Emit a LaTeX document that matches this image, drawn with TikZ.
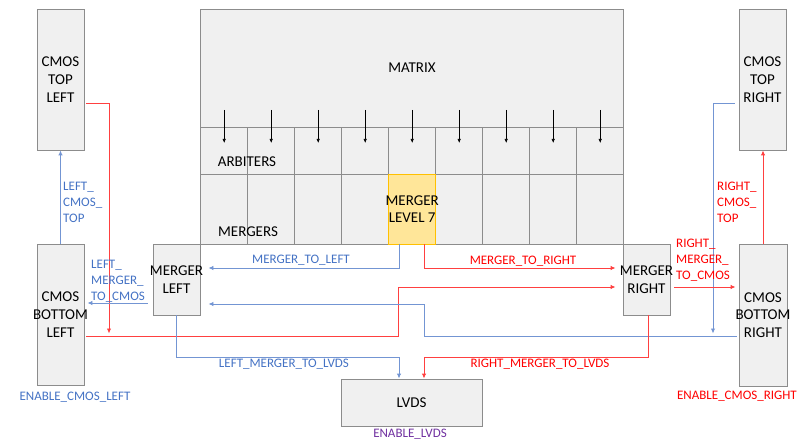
\documentclass[tikz,border=0pt]{standalone}
\usepackage{fontspec}
\setmainfont{Carlito}
\usetikzlibrary{arrows.meta}
\definecolor{boxfill}{HTML}{F0F0F0}
\definecolor{boxline}{HTML}{8C8C8C}
\definecolor{bl}{HTML}{4472C4}
\definecolor{rd}{HTML}{FF0000}
\definecolor{pu}{HTML}{7030A0}
\definecolor{ylfill}{HTML}{FFE699}
\definecolor{ylline}{HTML}{FFC000}
\tikzset{
  blk/.style={draw=boxline, fill=boxfill, line width=0.9pt, inner sep=0pt},
  cell/.style={draw=boxline, fill=boxfill, line width=0.9pt, inner sep=0pt, minimum width=47pt},
  big/.style={inner sep=0pt, align=center, font=\fontsize{15}{17.7}\selectfont},
  lbl/.style={inner sep=0pt, font=\fontsize{13}{16}\selectfont},
  bwire/.style={draw=bl!75, line width=0.9pt},
  rwire/.style={draw=rd!75, line width=0.9pt},
  tip/.style={-{Latex[length=5pt,width=4.5pt]}},
  darr/.style={black, line width=0.6pt, -{Latex[length=4pt,width=3.5pt]}}
}
\begin{document}
\begin{tikzpicture}[x=1pt,y=-1pt]
\useasboundingbox (0,0) rectangle (798,441);
% side blocks
\node[blk, minimum width=47pt, minimum height=141pt] (ctl) at (60.5,79.5) {};
\node[big] (ctlt) at (ctl) {CMOS\\TOP\\LEFT};
\node[blk, minimum width=47pt, minimum height=141pt] (cbl) at (60.5,314.5) {};
\node[big] (cblt) at (cbl) {CMOS\\BOTTOM\\LEFT};
\node[blk, minimum width=47pt, minimum height=141pt] (ctr) at (762.5,79.5) {};
\node[big] (ctrt) at (ctr) {CMOS\\TOP\\RIGHT};
\node[blk, minimum width=48pt, minimum height=142pt] (cbr) at (763,315) {};
\node[big] (cbrt) at (cbr) {CMOS\\BOTTOM\\RIGHT};
\node[blk, minimum width=47pt, minimum height=71pt] (ml) at (176.5,279.5) {};
\node[big] (mlt) at (ml) {MERGER\\LEFT};
\node[blk, minimum width=47pt, minimum height=71pt] (mr) at (646.5,279.5) {};
\node[big] (mrt) at (mr) {MERGER\\RIGHT};
\node[blk, minimum width=141pt, minimum height=47pt] (lvds) at (411.5,402.5) {};
\node[big] (lvdst) at (lvds) {LVDS};
% matrix
\node[blk, minimum width=422.6pt, minimum height=118pt] (mat) at (412,68) {};
\node[big] (matt) at (mat) {MATRIX};
\foreach \i in {0,...,8} {
  \node[cell, minimum height=47pt] (arb\i) at (224.2+\i*47,150.5) {};
  \node[cell, minimum height=70pt] (mg\i) at (224.2+\i*47,209) {};
  \draw[darr] (224.2+\i*47,110) -- (224.2+\i*47,143);
}
\node[blk, draw=ylline, fill=ylfill, minimum width=47pt, minimum height=70pt] (ml7) at (412.2,209) {};
\node[big] (ml7t) at (ml7) {MERGER\\LEVEL 7};
\node[big] (arbl) at (247,162) {ARBITERS};
\node[big] (mgl) at (248,232) {MERGERS};
% coordinates
\coordinate (j1) at (109,333.5);
\coordinate (j2) at (713,333.5);
% connectors
\draw[rwire, tip] ([yshift=-23.5pt,xshift=2pt]ctl.east) -| (j1);
\draw[rwire, tip] ([yshift=-21.5pt,xshift=2pt]cbl.east) -- (398,336) -- (398,287) -- ([yshift=-7.5pt,xshift=-7pt]mr.west);
\draw[rwire, tip] ([xshift=12pt]ml7.south) |- ([yshift=11.5pt,xshift=-7pt]mr.west);
\draw[bwire, tip] ([xshift=-13pt]ml7.south) |- ([yshift=11.5pt,xshift=8pt]ml.east);
\draw[bwire, tip] ([yshift=-21pt,xshift=-2pt]cbr.west) -- (424,336) -- (424,304) -- ([yshift=-24.5pt,xshift=8pt]ml.east);
\draw[bwire, tip] ([yshift=-23.5pt,xshift=-4pt]ctr.west) -| (j2);
\draw[bwire, tip] ([yshift=-23.5pt,xshift=-5pt]ml.west) -- ([yshift=11.5pt,xshift=3pt]cbl.east);
\draw[rwire, tip] ([yshift=-7.5pt,xshift=4pt]mr.east) -- ([yshift=28pt,xshift=-3pt]cbr.west);
\draw[bwire, tip] (cbl.north) -- (ctl.south);
\draw[rwire, tip] (cbr.north) -- (cbr.north |- ctr.south);
\draw[bwire, tip] (ml.south) -- (176.5,357) -| ([xshift=-12.5pt]lvds.north);
\draw[rwire, tip] ([xshift=1.5pt]mr.south) -- (648,357) -| ([xshift=12.5pt]lvds.north);
% labels
\node[lbl, text=bl, align=left, anchor=west] (t1) at (63,202) {LEFT\_\\CMOS\_\\TOP};
\node[lbl, text=rd, align=left, anchor=west] (t2) at (717,202) {RIGHT\_\\CMOS\_\\TOP};
\node[lbl, text=bl, align=left, anchor=west] (t3) at (91,281) {LEFT\_\\MERGER\_\\TO\_CMOS};
\node[lbl, text=rd, align=left, anchor=west] (t4) at (676,260) {RIGHT\_\\MERGER\_\\TO\_CMOS};
\node[lbl, text=bl] (t5) at (301,260) {MERGER\_TO\_LEFT};
\node[lbl, text=rd] (t6) at (523,261) {MERGER\_TO\_RIGHT};
\node[lbl, text=bl] (t7) at (284,364) {LEFT\_MERGER\_TO\_LVDS};
\node[lbl, text=rd] (t8) at (540,364) {RIGHT\_MERGER\_TO\_LVDS};
\node[lbl, text=bl] (t9) at (75,397) {ENABLE\_CMOS\_LEFT};
\node[lbl, text=rd, anchor=east] (t10) at (797,396) {ENABLE\_CMOS\_RIGHT};
\node[lbl, text=pu] (t11) at (410,434.5) {ENABLE\_LVDS};
\end{tikzpicture}
\end{document}
